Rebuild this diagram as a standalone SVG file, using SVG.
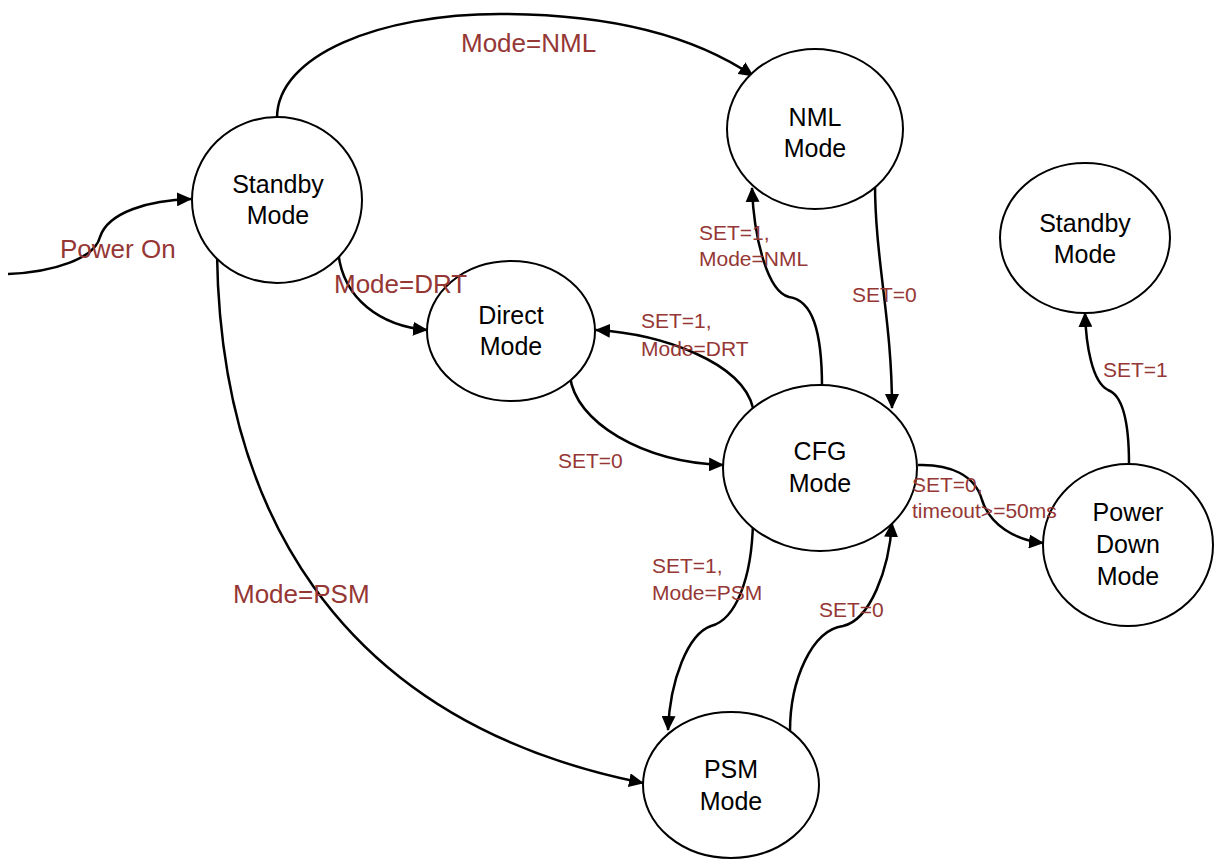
<svg xmlns="http://www.w3.org/2000/svg" width="1221" height="859" viewBox="0 0 1221 859">
  <style>
    .node ellipse { fill: #ffffff; stroke: #000000; stroke-width: 2; }
    .node text { font-family: "Liberation Sans", Arial, sans-serif; font-size: 25px; fill: #000000; text-anchor: middle; }
    .edge { fill: none; stroke: #000000; stroke-width: 2.5; }
    .lbl { font-family: "Liberation Sans", Arial, sans-serif; fill: #953735; }
    .big { font-size: 26px; }
    .small { font-size: 21px; }
  </style>
  <defs>
    <marker id="arrow" viewBox="0 0 15 14" markerWidth="15" markerHeight="14" refX="14" refY="7" orient="auto" markerUnits="userSpaceOnUse">
      <path d="M0,0 L15,7 L0,14 Z" fill="#000000"/>
    </marker>
  </defs>
  <rect width="1221" height="859" fill="#ffffff"/>

  <!-- transitions -->
  <g id="connectors">
    <path class="edge" marker-end="url(#arrow)" d="M8,274 C55,272 95,258 100,237 C108,212 150,200 191,199"/>
    <path class="edge" marker-end="url(#arrow)" d="M277,118 C277,55 380,14 500,14 C620,14 700,40 753,76"/>
    <path class="edge" marker-end="url(#arrow)" d="M338,250 C342,300 382,326 427,330"/>
    <path class="edge" marker-end="url(#arrow)" d="M217,253 C220,500 330,720 643,783"/>
    <path class="edge" marker-end="url(#arrow)" d="M570,376 C575,422 642,462 723,465"/>
    <path class="edge" marker-end="url(#arrow)" d="M753,408 C742,362 662,334 596,330"/>
    <path class="edge" marker-end="url(#arrow)" d="M822,387 C822,330 812,300 789,297 C768,292 754,240 752,188"/>
    <path class="edge" marker-end="url(#arrow)" d="M875,183 C875,260 892,320 892,408"/>
    <path class="edge" marker-end="url(#arrow)" d="M753,521 C752,580 735,620 711,626 C688,634 670,680 668,730"/>
    <path class="edge" marker-end="url(#arrow)" d="M790,731 C790,680 812,630 843,626 C870,620 889,570 892,523"/>
    <path class="edge" marker-end="url(#arrow)" d="M918,465 C950,464 975,475 982,500 C990,525 1015,540 1043,543"/>
    <path class="edge" marker-end="url(#arrow)" d="M1129,464 C1129,420 1122,395 1108,390 C1092,382 1086,345 1085,313"/>
  </g>

  <!-- states -->
  <g id="standby-left" class="node">
    <ellipse cx="277" cy="200" rx="85" ry="83"/>
    <text x="278" y="193">Standby</text>
    <text x="278" y="224">Mode</text>
  </g>
  <g id="nml" class="node">
    <ellipse cx="815" cy="129" rx="88" ry="80"/>
    <text x="815" y="126">NML</text>
    <text x="815" y="157">Mode</text>
  </g>
  <g id="standby-right" class="node">
    <ellipse cx="1085" cy="238" rx="85" ry="75"/>
    <text x="1085" y="232">Standby</text>
    <text x="1085" y="263">Mode</text>
  </g>
  <g id="direct" class="node">
    <ellipse cx="511" cy="331" rx="84" ry="70"/>
    <text x="511" y="324">Direct</text>
    <text x="511" y="355">Mode</text>
  </g>
  <g id="cfg" class="node">
    <ellipse cx="820" cy="468" rx="97" ry="83"/>
    <text x="820" y="460">CFG</text>
    <text x="820" y="492">Mode</text>
  </g>
  <g id="power-down" class="node">
    <ellipse cx="1128" cy="545" rx="85" ry="81"/>
    <text x="1128" y="521">Power</text>
    <text x="1128" y="553">Down</text>
    <text x="1128" y="585">Mode</text>
  </g>
  <g id="psm" class="node">
    <ellipse cx="731" cy="785" rx="88" ry="73"/>
    <text x="731" y="778">PSM</text>
    <text x="731" y="810">Mode</text>
  </g>

  <!-- transition labels, drawn over lines and states -->
  <g id="labels">
    <text class="lbl big" x="60" y="258">Power On</text>
    <text class="lbl big" x="461" y="52">Mode=NML</text>
    <text class="lbl big" x="334" y="293">Mode=DRT</text>
    <text class="lbl big" x="233" y="603">Mode=PSM</text>
    <text class="lbl small" x="699" y="240">SET=1,</text>
    <text class="lbl small" x="699" y="266">Mode=NML</text>
    <text class="lbl small" x="852" y="302">SET=0</text>
    <text class="lbl small" x="641" y="328">SET=1,</text>
    <text class="lbl small" x="641" y="356">Mode=DRT</text>
    <text class="lbl small" x="558" y="468">SET=0</text>
    <text class="lbl small" x="912" y="492">SET=0,</text>
    <text class="lbl small" x="912" y="518">timeout&gt;=50ms</text>
    <text class="lbl small" x="652" y="573">SET=1,</text>
    <text class="lbl small" x="652" y="600">Mode=PSM</text>
    <text class="lbl small" x="819" y="617">SET=0</text>
    <text class="lbl small" x="1103" y="377">SET=1</text>
  </g>
</svg>
